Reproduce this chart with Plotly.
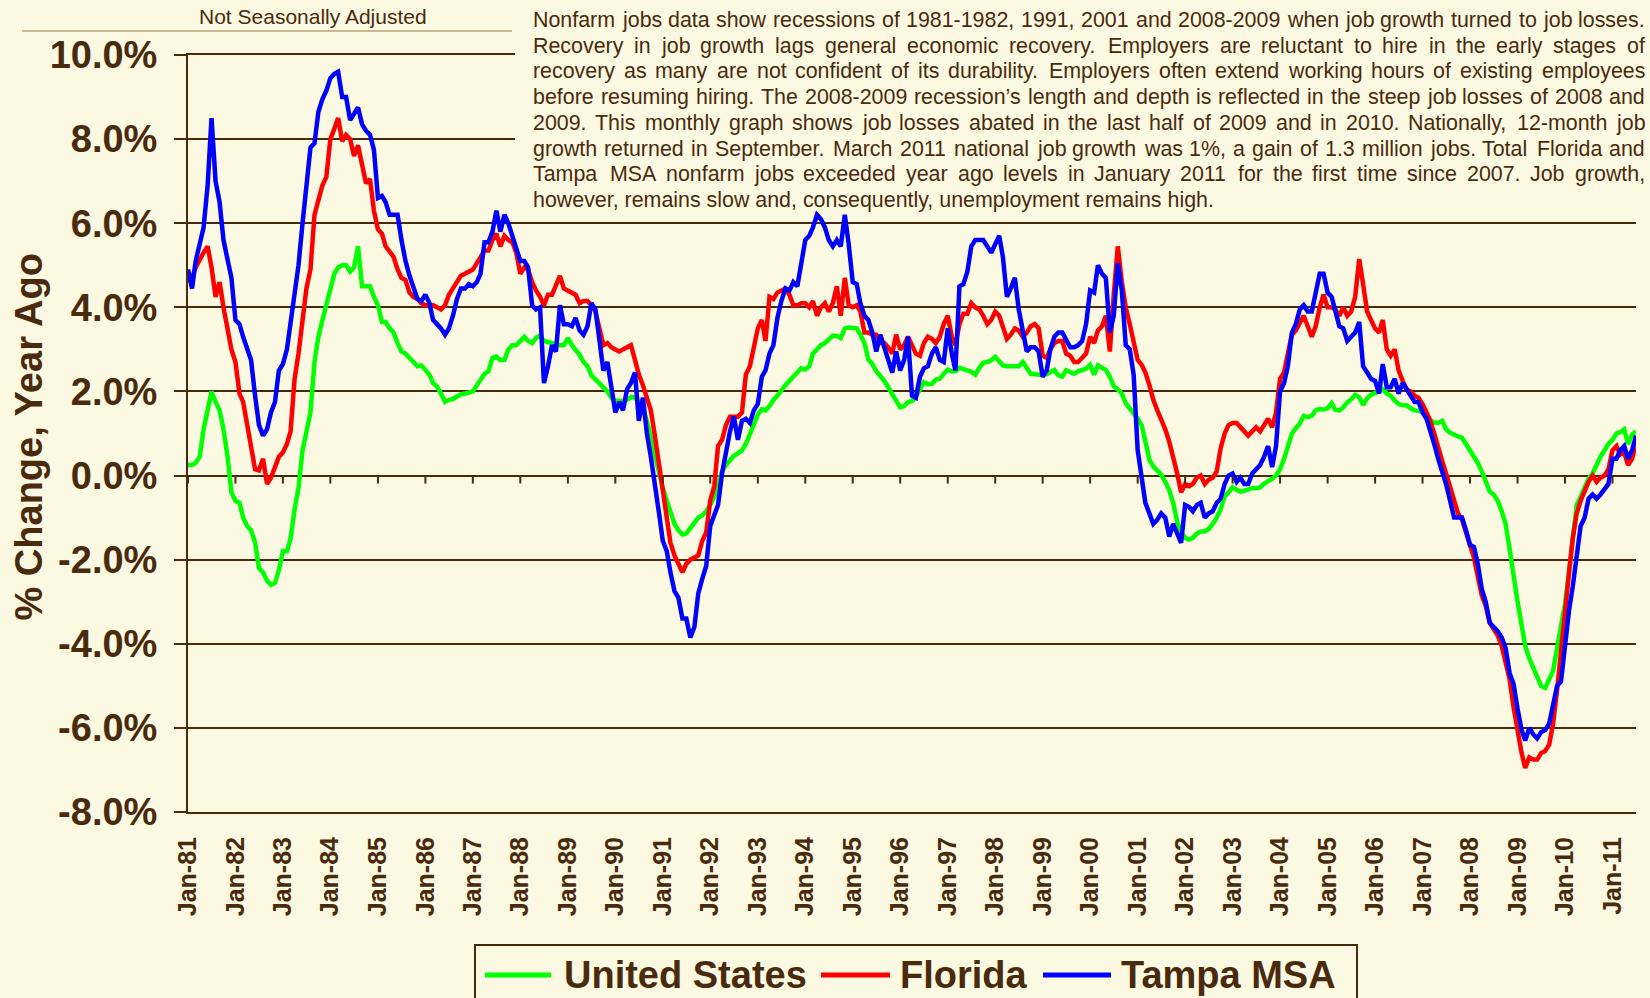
import plotly.graph_objects as go
import pandas as pd

# ---------------- data (monthly, % change year ago) ----------------
START_MONTH = "1981-01-01"

us = [
    0.25, 0.25, 0.3, 0.45, 1.1, 1.5, 2.0, 1.75, 1.55, 1.1, 0.45, -0.4,
    -0.6, -0.65, -1.0, -1.2, -1.3, -1.6, -2.2, -2.3, -2.5, -2.6, -2.55, -2.25,
    -1.8, -1.8, -1.5, -0.8, -0.3, 0.6, 1.0, 1.5, 2.7, 3.3, 3.7, 4.05,
    4.4, 4.8, 4.95, 5.0, 5.0, 4.85, 4.95, 5.45, 4.5, 4.5, 4.5, 4.25,
    4.05, 3.65, 3.65, 3.5, 3.4, 3.15, 2.95, 2.9, 2.8, 2.7, 2.6, 2.62,
    2.5, 2.4, 2.2, 2.12, 1.95, 1.75, 1.8, 1.82, 1.88, 1.93, 1.95, 1.97,
    2.0, 2.15, 2.3, 2.42, 2.48, 2.8, 2.83, 2.75, 2.75, 3.0, 3.1, 3.1,
    3.2, 3.3, 3.2, 3.15, 3.27, 3.33, 3.2, 3.17, 3.15, 3.12, 3.1, 3.1,
    3.27, 3.1, 3.0, 2.87, 2.7, 2.6, 2.38, 2.28, 2.2, 2.1, 2.0, 1.85,
    1.78, 1.78, 1.75, 1.8, 1.86, 1.86, 1.75, 1.6, 1.3, 0.9, 0.55, 0.2,
    -0.3, -0.6, -0.9, -1.15, -1.3, -1.4, -1.38, -1.25, -1.1, -1.0, -0.95, -0.85,
    -0.7, -0.5, -0.2, 0.1, 0.25, 0.38, 0.47, 0.53, 0.6, 0.75, 1.0, 1.2,
    1.45, 1.58, 1.55, 1.65, 1.8, 1.9, 2.03, 2.15, 2.25, 2.35, 2.45, 2.55,
    2.52, 2.6, 2.9, 3.02, 3.1, 3.15, 3.25, 3.33, 3.32, 3.27, 3.5, 3.52,
    3.51, 3.5, 3.35, 3.15, 2.76, 2.65, 2.48, 2.38, 2.25, 2.1, 1.95, 1.8,
    1.62, 1.65, 1.75, 1.77, 1.88, 2.05, 2.22, 2.17, 2.18, 2.28, 2.3, 2.42,
    2.52, 2.48, 2.48, 2.56, 2.54, 2.5, 2.47, 2.4, 2.56, 2.68, 2.7, 2.74,
    2.82, 2.72, 2.62, 2.6, 2.6, 2.6, 2.6, 2.7, 2.55, 2.42, 2.41, 2.4,
    2.39, 2.41, 2.45, 2.51, 2.39, 2.35, 2.5, 2.45, 2.42, 2.48, 2.51, 2.54,
    2.63, 2.4, 2.62, 2.55, 2.51, 2.35, 2.12, 2.05, 1.95, 1.72, 1.6, 1.45,
    1.35, 1.2, 0.75, 0.38, 0.22, 0.12, 0.02, -0.15, -0.35, -0.65, -1.1, -1.35,
    -1.48, -1.52, -1.48, -1.38, -1.33, -1.33, -1.27, -1.15, -1.0, -0.8, -0.5, -0.4,
    -0.28, -0.34, -0.38, -0.36, -0.32, -0.3, -0.3, -0.28, -0.19, -0.14, -0.08, 0.0,
    0.15, 0.4, 0.69, 1.0, 1.12, 1.24, 1.42, 1.39, 1.42, 1.55, 1.58, 1.57,
    1.6, 1.72, 1.56, 1.55, 1.62, 1.74, 1.81, 1.92, 1.86, 1.68, 1.84, 1.92,
    1.96, 2.0, 2.05, 1.95, 1.9, 1.78, 1.7, 1.67, 1.67, 1.6, 1.55, 1.54,
    1.51, 1.45, 1.32, 1.26, 1.25, 1.3, 1.1, 1.02, 0.96, 0.93, 0.9, 0.75,
    0.61, 0.48, 0.3, 0.1, -0.15, -0.38, -0.45, -0.6, -0.85, -1.15, -1.75, -2.45,
    -3.0, -3.55, -4.05, -4.35, -4.55, -4.8, -5.0, -5.05, -4.87, -4.65, -4.1, -3.6,
    -3.05, -2.3, -1.45, -0.7, -0.5, -0.27, -0.07, 0.05, 0.28, 0.45, 0.6, 0.75,
    0.85, 1.0, 1.03, 1.1, 0.75, 0.98, 1.05,
]

florida = [
    4.6, 4.7, 4.95, 5.15, 5.3, 5.45, 4.95, 4.25, 4.6, 4.0, 3.5, 3.0,
    2.7, 1.95, 1.75, 1.25, 0.75, 0.15, 0.12, 0.4, -0.2, -0.05, 0.2, 0.45,
    0.55, 0.75, 1.05, 2.3, 2.9, 3.75, 4.45, 4.9, 6.2, 6.55, 6.9, 7.1,
    8.0, 8.25, 8.5, 7.95, 8.1, 8.0, 7.6, 7.85, 7.4, 6.95, 7.05, 6.3,
    5.85, 5.75, 5.45, 5.3, 5.2, 4.9, 4.7, 4.65, 4.35, 4.25, 4.2, 4.1,
    4.05, 4.05, 4.05, 4.0, 3.95, 4.05, 4.3, 4.45, 4.6, 4.75, 4.8, 4.85,
    4.9, 5.05, 5.2, 5.35, 5.35, 5.6, 5.75, 5.45, 5.7, 5.6, 5.55, 5.3,
    4.8, 4.95, 4.9, 4.6, 4.4, 4.25, 4.05, 4.3, 4.3, 4.5, 4.75, 4.45,
    4.4, 4.35, 4.3, 4.1, 4.15, 4.15, 4.05, 3.9, 3.45, 3.1, 3.15, 3.05,
    3.0, 2.95, 3.0, 3.05, 3.1, 2.75, 2.4, 2.15, 1.85, 1.55, 0.95, 0.3,
    -0.4, -1.1, -1.6, -1.9, -2.1, -2.3, -2.1, -2.0, -1.95, -1.9, -1.55, -1.35,
    -0.6, -0.25, 0.7, 0.85, 1.2, 1.4, 1.4, 1.4, 1.5, 2.4, 2.6, 3.0,
    3.5, 3.7, 3.2, 4.25, 4.2, 4.35, 4.4, 4.45, 4.3, 4.05, 4.05, 4.1,
    4.1, 4.0, 4.15, 3.8, 4.0, 4.1, 3.9, 4.1, 4.5, 3.8, 4.7, 4.05,
    4.0, 4.05, 3.9, 3.4, 3.4, 3.35, 3.35, 3.15, 3.15, 3.05, 2.9, 3.35,
    3.0, 3.1, 3.3, 3.1, 2.9, 2.85, 3.15, 3.3, 3.25, 3.15, 3.3, 3.6,
    3.8, 3.3, 3.1, 3.6, 3.85, 3.85, 4.1, 4.0, 3.95, 3.8, 3.6, 3.7,
    3.9, 3.8, 3.5, 3.25, 3.35, 3.5, 3.45, 3.3, 3.4, 3.55, 3.6, 3.5,
    2.85, 2.8, 3.0, 3.15, 3.2, 3.2, 2.9, 2.85, 2.7, 2.7, 2.8, 2.9,
    3.3, 3.15, 3.45, 3.55, 3.8, 2.95, 4.3, 5.45, 4.6, 4.0, 3.6, 3.2,
    2.75, 2.63, 2.45, 2.15, 1.8, 1.55, 1.35, 1.1, 0.8, 0.45, 0.05, -0.4,
    -0.2, -0.25, -0.2, -0.05, 0.0, -0.2, -0.1, -0.05, 0.1, 0.65, 1.0, 1.2,
    1.25, 1.25, 1.15, 1.05, 0.95, 1.05, 1.15, 1.05, 1.2, 1.35, 1.15, 1.5,
    2.3, 2.45, 2.9, 3.35, 3.45, 3.65, 3.8, 3.55, 3.3, 3.55, 4.0, 4.3,
    4.0, 4.0, 3.95, 3.8, 4.0, 3.8, 3.9, 4.25, 5.15, 4.55, 3.9, 3.7,
    3.5, 3.4, 3.7, 3.0, 2.85, 3.0, 2.5, 2.25, 2.05, 2.0, 1.9, 1.85,
    1.7, 1.5, 1.3, 1.0, 0.65, 0.35, 0.05, -0.3, -0.6, -0.9, -1.05, -1.35,
    -1.7, -1.95, -2.4, -2.85, -3.1, -3.5, -3.65, -3.8, -4.05, -4.4, -4.85, -5.5,
    -6.1, -6.6, -6.95, -6.7, -6.75, -6.75, -6.6, -6.55, -6.4, -5.9, -5.1, -4.1,
    -3.2, -2.3, -1.5, -0.9, -0.6, -0.35, -0.15, 0.0, -0.15, -0.05, 0.0, 0.15,
    0.6, 0.7, 0.5, 0.55, 0.25, 0.4, 0.75,
]

tampa = [
    4.9, 4.45, 5.1, 5.55, 5.9, 6.9, 8.5, 7.0, 6.5, 5.6, 5.2, 4.7,
    3.7, 3.6, 3.3, 3.0, 2.75, 1.9, 1.2, 0.95, 1.1, 1.5, 1.75, 2.5,
    2.65, 3.0, 3.6, 4.2, 5.0, 6.0, 7.0, 7.8, 7.9, 8.65, 8.95, 9.15,
    9.45, 9.55, 9.6, 9.0, 9.0, 8.45, 8.6, 8.75, 8.35, 8.2, 8.1, 7.75,
    6.6, 6.65, 6.5, 6.2, 6.2, 6.2, 5.6, 5.1, 4.75, 4.5, 4.2, 4.15,
    4.3, 4.1, 3.7, 3.6, 3.5, 3.35, 3.5, 3.8, 4.2, 4.45, 4.45, 4.55,
    4.5, 4.6, 4.8, 5.55, 5.55, 5.8, 6.3, 5.8, 6.2, 6.0, 5.7, 5.45,
    5.1, 5.1, 4.95, 4.05, 3.95, 4.0, 2.2, 2.6, 3.1, 2.95, 4.05, 3.6,
    3.6, 3.55, 3.75, 3.45, 3.35, 3.55, 4.1, 3.95, 3.1, 2.5, 2.7, 2.1,
    1.5, 1.75, 1.55, 2.05, 2.2, 2.45, 1.3, 1.85, 1.0, 0.45, -0.15, -0.85,
    -1.55, -1.8, -2.3, -2.75, -2.9, -3.4, -3.4, -3.85, -3.6, -2.8, -2.45, -2.15,
    -1.2, -0.95, -0.7, 0.05, 0.55, 1.05, 1.4, 0.85, 1.3, 1.35, 1.25, 1.55,
    1.7, 2.35, 2.5, 2.9, 3.1, 3.75, 4.15, 4.45, 4.4, 4.6, 4.5, 5.1,
    5.6, 5.7, 5.9, 6.2, 6.1, 5.9, 5.6, 5.45, 5.6, 5.45, 6.2, 5.5,
    4.6, 4.55, 4.1, 3.8, 3.7, 3.4, 2.95, 3.35, 3.05, 2.8, 2.45, 2.95,
    2.5, 2.75, 3.3, 1.9, 1.85, 2.35, 2.55, 2.6, 2.9, 3.05, 2.75, 2.7,
    3.5, 2.9, 2.5, 4.5, 4.55, 4.85, 5.45, 5.6, 5.6, 5.6, 5.45, 5.3,
    5.5, 5.7, 5.2, 4.25, 4.45, 4.7, 3.95, 3.45, 2.95, 3.05, 3.05, 2.95,
    2.35, 2.5, 3.0, 3.3, 3.4, 3.4, 3.2, 3.05, 3.05, 3.1, 3.2, 3.6,
    4.4, 4.35, 5.0, 4.8, 4.7, 3.4, 3.8, 5.05, 4.4, 3.1, 3.0, 2.4,
    0.6, -0.05, -0.65, -0.9, -1.15, -1.05, -0.9, -1.0, -1.45, -1.15, -1.4, -1.6,
    -0.7, -0.75, -0.85, -0.7, -0.65, -1.0, -0.9, -0.85, -0.65, -0.55, -0.2, 0.0,
    0.05, -0.15, -0.05, -0.2, -0.2, 0.05, 0.15, 0.25, 0.45, 0.7, 0.2, 0.7,
    2.0, 2.2, 2.6, 3.4, 3.6, 3.95, 4.05, 3.9, 3.9, 4.3, 4.8, 4.8,
    4.35, 4.25, 3.9, 3.55, 3.5, 3.2, 3.3, 3.4, 3.65, 2.6, 2.45, 2.3,
    2.25, 1.95, 2.65, 2.1, 2.1, 2.3, 1.95, 2.2, 2.05, 1.9, 1.75, 1.75,
    1.5, 1.35, 1.1, 0.75, 0.4, 0.1, -0.2, -0.6, -1.0, -1.0, -1.0, -1.3,
    -1.65, -1.7, -2.1, -2.7, -3.0, -3.5, -3.6, -3.7, -3.85, -4.1, -4.7, -4.95,
    -5.55, -6.05, -6.3, -6.0, -6.15, -6.25, -6.1, -6.05, -5.9, -5.5, -5.0, -4.9,
    -4.0, -3.2, -2.65, -2.0, -1.2, -1.0, -0.55, -0.45, -0.55, -0.45, -0.3, -0.2,
    0.4, 0.4, 0.6, 0.7, 0.4, 0.6, 0.95,
]

series_names = ["United States", "Florida", "Tampa MSA"]
y_tick_values = [-8, -6, -4, -2, 0, 2, 4, 6, 8, 10]
y_tick_labels = ["-8.0%", "-6.0%", "-4.0%", "-2.0%", "0.0%",
                 "2.0%", "4.0%", "6.0%", "8.0%", "10.0%"]
subtitle = "Not Seasonally Adjusted"
y_title = "% Change, Year Ago"
note_lines = [
    "Nonfarm jobs data show recessions of 1981-1982, 1991, 2001 and 2008-2009 when job growth turned to job losses.",
    "Recovery in job growth lags general economic recovery.  Employers are reluctant to hire in the early stages of",
    "recovery as many are not confident of its durability.  Employers often extend working hours of existing employees",
    "before resuming hiring.  The 2008-2009 recession\u2019s length and depth is reflected in the steep job losses of 2008 and",
    "2009.  This monthly graph shows job losses abated in the last half of 2009 and in 2010.  Nationally, 12-month job",
    "growth returned in September.  March 2011 national job growth was 1%, a gain of 1.3 million jobs.  Total Florida and",
    "Tampa MSA nonfarm jobs exceeded year ago levels in January 2011 for the first time since 2007.  Job growth,",
    "however, remains slow and, consequently, unemployment remains high.",
]

assert len(us) == len(florida) == len(tampa)
months = pd.date_range(START_MONTH, periods=len(us), freq="MS")

# ---------------- styling ----------------
W, H = 1650, 998
ML, MR, MT, MB = 188, 14, 55, 186
PW, PH = W - ML - MR, H - MT - MB
BG = "#fbf9e2"
BROWN = "#4a2a0c"
FONT = "Liberation Sans, Arial, Helvetica, sans-serif"
COLORS = ["#00ff00", "#ff0000", "#0000ff"]


def px(x):
    return (x - ML) / PW


def py(y):
    return (H - MB - y) / PH


# Arial / Liberation Sans regular advance widths (per 1000 em)
AW = {' ': 278, ',': 278, '-': 333, '.': 278, '%': 889, '\u2019': 222}
for ch in "0123456789":
    AW[ch] = 556
AW.update(dict(zip("ABCDEFGHIJKLMNOPQRSTUVWXYZ",
                   [667, 667, 722, 722, 667, 611, 778, 722, 278, 500, 667, 556, 833,
                    722, 778, 667, 778, 722, 667, 611, 722, 667, 944, 667, 667, 611])))
AW.update(dict(zip("abcdefghijklmnopqrstuvwxyz",
                   [556, 556, 500, 556, 556, 278, 556, 556, 222, 222, 500, 222, 833,
                    556, 556, 556, 556, 333, 500, 278, 556, 500, 722, 500, 500, 500])))


def text_w(s, size):
    return sum(AW.get(c, 556) for c in s) * size / 1000.0


fig = go.Figure()
for name, vals, col in zip(series_names, [us, florida, tampa], COLORS):
    fig.add_trace(go.Scatter(x=months, y=vals, mode="lines", name=name,
                             line=dict(color=col, width=4.5), showlegend=False))

annotations = []
shapes = []

# note text block (justified)
NOTE_SIZE = 21.4
NOTE_LEFT, NOTE_RIGHT = 532, 1644
NOTE_TOP, NOTE_STEP = 20, 25.7
shapes.append(dict(type="rect", xref="paper", yref="paper", x0=px(515), x1=px(W + 5),
                   y0=py(209), y1=py(-5), fillcolor=BG, line=dict(width=0), layer="above"))
for k, line in enumerate(note_lines):
    yc = NOTE_TOP + k * NOTE_STEP
    words = line.split()
    if k == len(note_lines) - 1 or len(words) < 2:
        annotations.append(dict(x=px(NOTE_LEFT), y=py(yc), xref="paper", yref="paper",
                                text=" ".join(words), showarrow=False, xanchor="left",
                                yanchor="middle", borderpad=0,
                                font=dict(size=NOTE_SIZE, color=BROWN, family=FONT)))
        continue
    widths = [text_w(w, NOTE_SIZE) for w in words]
    gap = (NOTE_RIGHT - NOTE_LEFT - sum(widths)) / (len(words) - 1)
    xcur = NOTE_LEFT
    for w, wd in zip(words, widths):
        annotations.append(dict(x=px(xcur), y=py(yc), xref="paper", yref="paper",
                                text=w, showarrow=False, xanchor="left", yanchor="middle",
                                borderpad=0,
                                font=dict(size=NOTE_SIZE, color=BROWN, family=FONT)))
        xcur += wd + gap

# subtitle with rule
annotations.append(dict(x=px(313), y=py(16), xref="paper", yref="paper", text=subtitle,
                        showarrow=False, xanchor="center", yanchor="middle",
                        font=dict(size=21, color=BROWN, family=FONT)))
shapes.append(dict(type="line", xref="paper", yref="paper", x0=px(22), x1=px(512),
                   y0=py(31), y1=py(31), line=dict(color="#c9b994", width=2)))

# y-axis title
annotations.append(dict(x=px(28), y=py(437.5), xref="paper", yref="paper", text=y_title,
                        textangle=-90, showarrow=False, xanchor="center", yanchor="middle",
                        font=dict(size=38, color=BROWN, family=FONT, weight="bold")))

# year tick marks on the 0% line
for d in months[::12]:
    shapes.append(dict(type="line", xref="x", yref="y", x0=d, x1=d,
                       ysizemode="pixel", yanchor=0, y0=0, y1=-8,
                       line=dict(color=BROWN, width=2)))

# legend box
shapes.append(dict(type="rect", xref="paper", yref="paper", x0=px(475), x1=px(1357),
                   y0=py(1012), y1=py(945), fillcolor=BG, line=dict(color=BROWN, width=2),
                   layer="above"))
leg_y = 975
for (x0, x1, tx), name, col in zip([(485, 551, 563), (821, 890, 899), (1043, 1111, 1120)],
                                   series_names, COLORS):
    shapes.append(dict(type="line", xref="paper", yref="paper", x0=px(x0), x1=px(x1),
                       y0=py(leg_y), y1=py(leg_y), line=dict(color=col, width=5),
                       layer="above"))
    annotations.append(dict(x=px(tx), y=py(leg_y), xref="paper", yref="paper", text=name,
                            showarrow=False, xanchor="left", yanchor="middle", borderpad=0,
                            font=dict(size=38, color=BROWN, family=FONT, weight="bold")))

fig.update_layout(
    template="none",
    width=W, height=H,
    margin=dict(l=ML, r=MR, t=MT, b=MB, pad=0),
    paper_bgcolor=BG, plot_bgcolor=BG,
    font=dict(family=FONT, color=BROWN),
    showlegend=False,
    annotations=annotations,
    shapes=shapes,
    xaxis=dict(
        type="date",
        range=[months[0].strftime("%Y-%m-%d"), months[-1].strftime("%Y-%m-%d")],
        tick0=months[0].strftime("%Y-%m-%d"), dtick="M12", tickformat="%b-%y",
        tickangle=-90, ticks="", showgrid=False, zeroline=False,
        showline=True, mirror=True, linewidth=2, linecolor=BROWN,
        automargin=False, ticklabelstandoff=13,
        tickfont=dict(size=25, color=BROWN, family=FONT, weight="bold"),
    ),
    yaxis=dict(
        range=[-8, 10], tickmode="array", tickvals=y_tick_values, ticktext=y_tick_labels,
        ticks="outside", ticklen=12, tickwidth=2, tickcolor=BROWN,
        showline=True, linewidth=2, linecolor=BROWN,
        showgrid=True, gridcolor=BROWN, gridwidth=2, zeroline=False,
        automargin=False, ticklabelstandoff=9,
        tickfont=dict(size=38, color=BROWN, family=FONT, weight="bold"),
    ),
)

fig.write_html(
    "out.html",
    config={"displayModeBar": False},
    post_script="document.body.style.margin='0px';document.body.style.overflow='hidden';"
                "document.body.style.background='" + BG + "';",
)
